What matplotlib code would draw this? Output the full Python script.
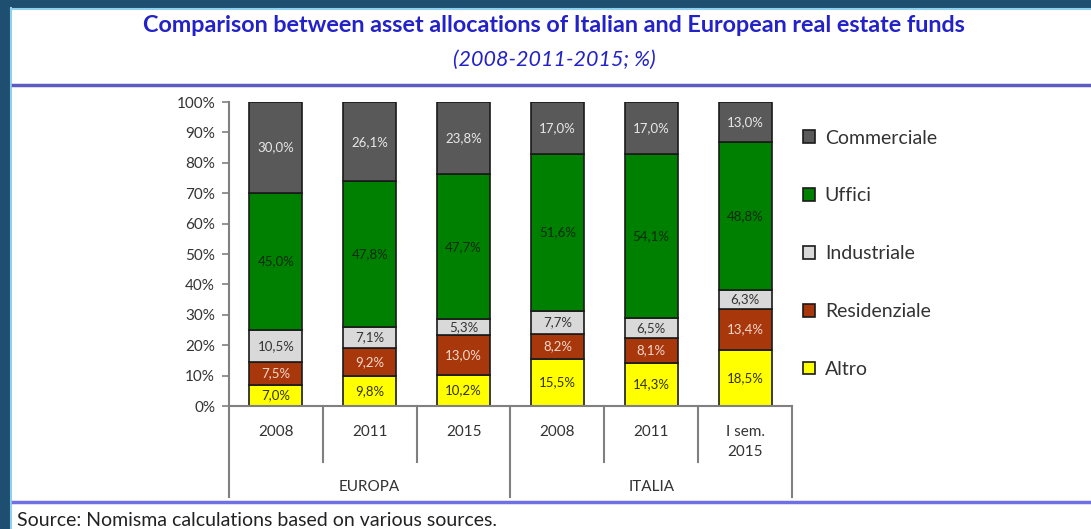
import numpy as np
import matplotlib.pyplot as plt
from matplotlib.patches import Rectangle
from matplotlib.lines import Line2D

plt.rcParams["font.family"] = ["Lato", "DejaVu Sans"]

# stacked shares, bottom to top
categories = ["2008", "2011", "2015", "2008", "2011", "I sem.\n2015"]
groups = ["EUROPA", "ITALIA"]
series = ["Altro", "Residenziale", "Industriale", "Uffici", "Commerciale"]
altro = [7.0, 9.8, 10.2, 15.5, 14.3, 18.5]
residenziale = [7.5, 9.2, 13.0, 8.2, 8.1, 13.4]
industriale = [10.5, 7.1, 5.3, 7.7, 6.5, 6.3]
uffici = [45.0, 47.8, 47.7, 51.6, 54.1, 48.8]
commerciale = [30.0, 26.1, 23.8, 17.0, 17.0, 13.0]

values = [altro, residenziale, industriale, uffici, commerciale]
colors = ["#ffff00", "#a8380c", "#d9d9d9", "#008000", "#595959"]
label_colors = ["#333300", "#f4d8cc", "#333333", "#0a2a0a", "#e8e8e8"]

fig = plt.figure(figsize=(10.91, 5.29), dpi=100)
fig.patch.set_facecolor("white")

# dark frame around the slide
frame = "#1e4f70"
fig.patches.append(Rectangle((0, 1 - 8 / 529), 1, 8 / 529, transform=fig.transFigure,
                             color=frame, zorder=0))
fig.patches.append(Rectangle((0, 0), 10 / 1091, 1, transform=fig.transFigure,
                             color=frame, zorder=0))
fig.add_artist(Line2D([11 / 1091, 11 / 1091], [0, 1 - 8 / 529], transform=fig.transFigure,
                      color="#8fd0ee", lw=1.5))
fig.add_artist(Line2D([11 / 1091, 1], [1 - 8.5 / 529, 1 - 8.5 / 529], transform=fig.transFigure,
                      color="#8fd0ee", lw=1.5))

# title block
fig.text(0.508, 1 - 25 / 529, "Comparison between asset allocations of Italian and European real estate funds",
         ha="center", va="center", fontsize=16.8, fontweight="bold", color="#2222c8")
fig.text(0.508, 1 - 60 / 529, "(2008-2011-2015; %)", ha="center", va="center",
         fontsize=15.5, style="italic", color="#2222c8")
fig.add_artist(Line2D([13 / 1091, 1], [1 - 85 / 529] * 2, transform=fig.transFigure,
                      color="#5c5cc0", lw=2.5))
fig.add_artist(Line2D([13 / 1091, 1], [1 - 502 / 529] * 2, transform=fig.transFigure,
                      color="#6f6fe6", lw=2.5))
fig.text(17 / 1091, 1 - 521 / 529, "Source: Nomisma calculations based on various sources.",
         ha="left", va="center", fontsize=14, color="#222222")

ax = fig.add_axes([229 / 1091, (529 - 406) / 529, (792 - 229) / 1091, 304 / 529])
x = np.arange(len(categories))
bottom = np.zeros(len(categories))
handles = []
for vals, name, col, lcol in zip(values, series, colors, label_colors):
    vals = np.array(vals)
    bars = ax.bar(x, vals, 0.565, bottom=bottom, color=col, edgecolor="#1a1a1a",
                  linewidth=1.2, label=name)
    handles.append(bars)
    for xi, b, v in zip(x, bottom, vals):
        ax.text(xi, b + v / 2, f"{v:.1f}%".replace(".", ","), ha="center", va="center",
                fontsize=9.5, color=lcol)
    bottom += vals

ax.set_xlim(-0.5, len(categories) - 0.5)
ax.set_ylim(0, 100)
ax.set_yticks(np.arange(0, 101, 10))
ax.set_yticklabels([f"{t}%" for t in range(0, 101, 10)])
ax.tick_params(axis="y", length=5, width=1.2, color="#808080", labelsize=11,
               labelcolor="#333333", pad=5)
ax.set_xticks([])
for side in ["top", "right"]:
    ax.spines[side].set_visible(False)
for side in ["left", "bottom"]:
    ax.spines[side].set_color("#808080")
    ax.spines[side].set_linewidth(1.5)

# two-level category axis
trans = ax.get_xaxis_transform()
for i in range(len(categories) + 1):
    xs = i - 0.5
    long_sep = i in (0, 3, 6)
    ax.plot([xs, xs], [0, -0.30 if long_sep else -0.185], transform=trans,
            color="#808080", lw=1.5, clip_on=False)
for xi, cat in zip(x, categories):
    ax.text(xi, -0.062, cat, transform=trans, ha="center", va="top", fontsize=11,
            color="#333333", linespacing=1.6)
for gi, g in enumerate(groups):
    ax.text(gi * 3 + 1, -0.265, g, transform=trans, ha="center", va="center",
            fontsize=11, color="#333333")

leg = fig.legend(handles[::-1], series[::-1], loc="upper left",
                 bbox_to_anchor=(785 / 1091, 1 - 112 / 529), frameon=False,
                 fontsize=14, labelspacing=2.1, handlelength=0.65, handleheight=0.65,
                 handletextpad=0.5, labelcolor="#333333")

fig.savefig("out.png", dpi=100)
